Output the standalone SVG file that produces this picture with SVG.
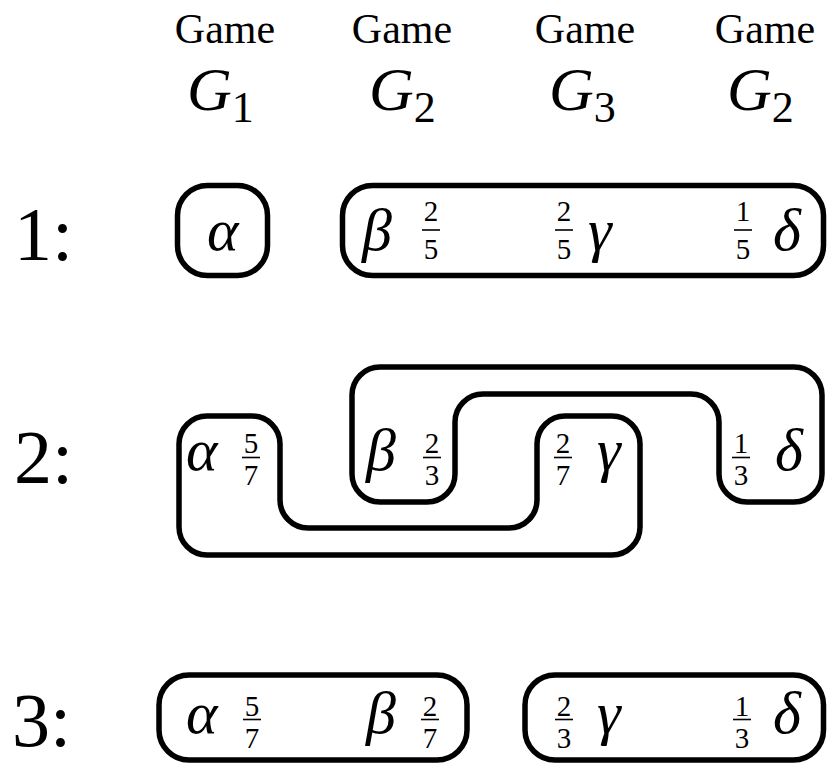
<svg xmlns="http://www.w3.org/2000/svg" width="828" height="766" viewBox="0 0 828 766" font-family="Liberation Serif, Times New Roman, serif">
<style>
  .hdr { font-size: 42px; text-anchor: middle; }
  .gi { font-size: 62px; font-style: italic; }
  .sub { font-size: 44px; font-style: normal; }
  .row { font-size: 76px; }
  .gr { font-size: 60px; font-style: italic; }
  .fr { font-size: 29px; text-anchor: middle; }
  .bar { stroke: #000; stroke-width: 1.6; }
  .box { fill: none; stroke: #000; stroke-width: 5.5; stroke-linejoin: round; }
</style>
<rect width="828" height="766" fill="#fff"/>

<g id="headers" font-family="Liberation Serif, serif">
  <text class="hdr" x="225" y="43">Game</text>
  <text class="hdr" x="402" y="43">Game</text>
  <text class="hdr" x="585" y="43">Game</text>
  <text class="hdr" x="765" y="43">Game</text>
  <text class="gi" x="187" y="110">G<tspan class="sub" dy="12">1</tspan></text>
  <text class="gi" x="369" y="110">G<tspan class="sub" dy="12">2</tspan></text>
  <text class="gi" x="549" y="110">G<tspan class="sub" dy="12">3</tspan></text>
  <text class="gi" x="727" y="110">G<tspan class="sub" dy="12">2</tspan></text>
</g>

<g id="row-labels" font-family="Liberation Serif, serif">
  <text class="row" x="14" y="260">1:</text>
  <text class="row" x="14" y="483">2:</text>
  <text class="row" x="12" y="746">3:</text>
</g>

<g id="row1-alpha" font-family="Liberation Serif, serif">
  <rect class="box" x="177.5" y="185.5" width="90" height="90" rx="30"/>
  <text class="gr" x="207" y="250">α</text>
</g>
<g id="row1-beta-gamma-delta" font-family="Liberation Serif, serif">
  <rect class="box" x="342.5" y="185.5" width="481" height="90" rx="30"/>
  <text class="gr" x="362" y="250">β</text>
  <text class="fr" x="431" y="221">2</text><line class="bar" x1="422" y1="230" x2="440" y2="230"/><text class="fr" x="431" y="259">5</text>
  <text class="fr" x="564" y="221">2</text><line class="bar" x1="555" y1="230" x2="573" y2="230"/><text class="fr" x="564" y="259">5</text>
  <text class="gr" x="588" y="250">γ</text>
  <text class="fr" x="743" y="221">1</text><line class="bar" x1="734" y1="230" x2="752" y2="230"/><text class="fr" x="743" y="259">5</text>
  <text class="gr" x="773" y="250">δ</text>
</g>

<g id="row2-alpha-gamma" font-family="Liberation Serif, serif">
  <path class="box" d="M179,444 A28,28 0 0 1 207,416 L252,416 A28,28 0 0 1 280,444 L280,500 A28,28 0 0 0 308,528 L509,528 A28,28 0 0 0 537,500 L537,444 A28,28 0 0 1 565,416 L612,416 A28,28 0 0 1 640,444 L640,527 A28,28 0 0 1 612,555 L207,555 A28,28 0 0 1 179,527 Z"/>
  <text class="gr" x="186" y="470">α</text>
  <text class="fr" x="251" y="453">5</text><line class="bar" x1="242" y1="457.5" x2="260" y2="457.5"/><text class="fr" x="251" y="485">7</text>
  <text class="fr" x="563" y="453">2</text><line class="bar" x1="554" y1="457.5" x2="572" y2="457.5"/><text class="fr" x="563" y="485">7</text>
  <text class="gr" x="597" y="470">γ</text>
</g>

<g id="row2-beta-delta" font-family="Liberation Serif, serif">
  <path class="box" d="M352,395 A28,28 0 0 1 380,367 L794,367 A28,28 0 0 1 822,395 L822,474 A28,28 0 0 1 794,502 L747,502 A28,28 0 0 1 719,474 L719,422 A28,28 0 0 0 691,394 L483,394 A28,28 0 0 0 455,422 L455,474 A28,28 0 0 1 427,502 L380,502 A28,28 0 0 1 352,474 Z"/>
  <text class="gr" x="366" y="470">β</text>
  <text class="fr" x="432" y="453">2</text><line class="bar" x1="423" y1="457.5" x2="441" y2="457.5"/><text class="fr" x="432" y="485">3</text>
  <text class="fr" x="741" y="453">1</text><line class="bar" x1="732" y1="457.5" x2="750" y2="457.5"/><text class="fr" x="741" y="485">3</text>
  <text class="gr" x="775" y="470">δ</text>
</g>

<g id="row3-alpha-beta" font-family="Liberation Serif, serif">
  <rect class="box" x="159" y="675" width="308" height="85" rx="30"/>
  <text class="gr" x="186" y="733">α</text>
  <text class="fr" x="252" y="716">5</text><line class="bar" x1="243" y1="719.5" x2="261" y2="719.5"/><text class="fr" x="252" y="748">7</text>
  <text class="gr" x="366" y="733">β</text>
  <text class="fr" x="430" y="716">2</text><line class="bar" x1="421" y1="719.5" x2="439" y2="719.5"/><text class="fr" x="430" y="748">7</text>
</g>
<g id="row3-gamma-delta" font-family="Liberation Serif, serif">
  <rect class="box" x="525" y="675" width="298.5" height="85" rx="30"/>
  <text class="fr" x="564" y="716">2</text><line class="bar" x1="555" y1="719.5" x2="573" y2="719.5"/><text class="fr" x="564" y="748">3</text>
  <text class="gr" x="597" y="733">γ</text>
  <text class="fr" x="742" y="716">1</text><line class="bar" x1="733" y1="719.5" x2="751" y2="719.5"/><text class="fr" x="742" y="748">3</text>
  <text class="gr" x="773" y="733">δ</text>
</g>

<g id="connectors"></g>
</svg>
